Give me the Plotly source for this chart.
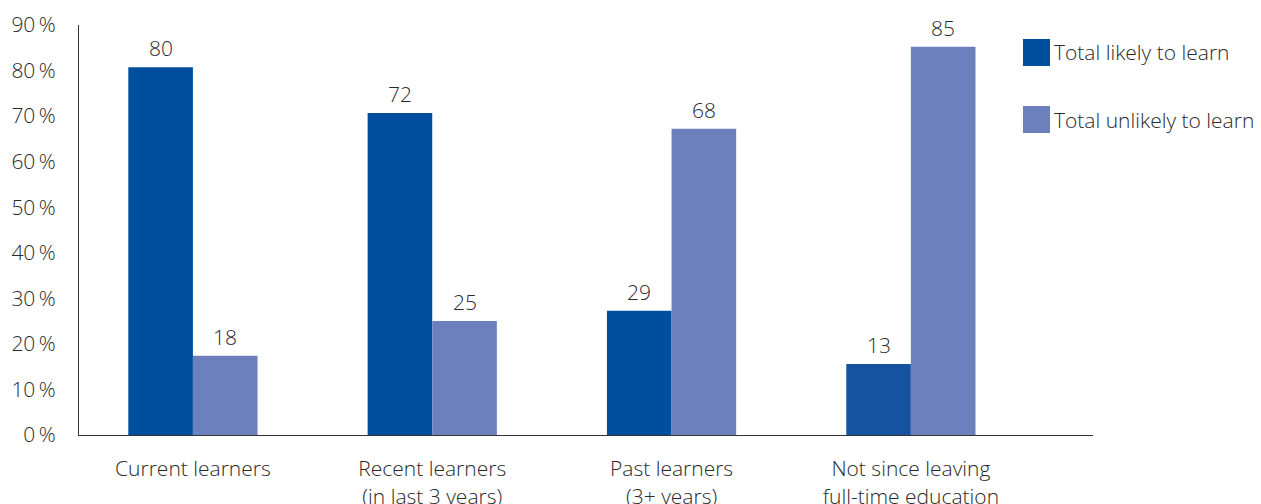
import plotly.graph_objects as go

categories = ["Current learners", "Recent learners<br>(in last 3 years)", "Past learners<br>(3+ years)",
              "Not since leaving<br>full-time education"]
likely_values = [80.7, 70.7, 27.3, 15.6]
unlikely_values = [17.4, 25.0, 67.2, 85.2]
likely_labels = ["80", "72", "29", "13"]
unlikely_labels = ["18", "25", "68", "85"]
series_names = ["Total likely to learn", "Total unlikely to learn"]
y_ticks = [0, 10, 20, 30, 40, 50, 60, 70, 80, 90]

DARK = "#004F9F"
DARK_ALT = "#1553A0"
LIGHT = "#6B80BC"
TEXT = "#2a2a2a"
FONT = "Open Sans"
FS = 21
FW = 300

W, H = 1261, 504
L, R, T, B = 79, 168, 25, 69
PW, PH = W - L - R, H - T - B

def px(x):
    return (x - L) / PW

def py(y):
    return (H - B - y) / PH

xs = list(range(len(categories)))
bw = 0.27
tfont = dict(family=FONT, size=FS, color=TEXT, weight=FW)

fig = go.Figure()
fig.add_trace(go.Bar(x=xs, y=likely_values, width=bw, offset=-bw, name=series_names[0],
                     marker=dict(color=[DARK, DARK, DARK, DARK_ALT], line=dict(width=0))))
fig.add_trace(go.Bar(x=xs, y=unlikely_values, width=bw, offset=0, name=series_names[1],
                     marker=dict(color=LIGHT, line=dict(width=0))))

annotations = []
for i in xs:
    annotations.append(dict(x=i - bw / 2, y=likely_values[i], text=likely_labels[i], showarrow=False,
                            xref="x", yref="y", yanchor="middle", yshift=19, font=tfont))
    annotations.append(dict(x=i + bw / 2, y=unlikely_values[i], text=unlikely_labels[i], showarrow=False,
                            xref="x", yref="y", yanchor="middle", yshift=19, font=tfont))

# legend
shapes = []
legend_colors = [DARK, LIGHT]
legend_tops = [39, 106]
for name, col, top in zip(series_names, legend_colors, legend_tops):
    shapes.append(dict(type="rect", xref="paper", yref="paper",
                       x0=px(1023), x1=px(1050), y0=py(top + 27), y1=py(top),
                       fillcolor=col, line=dict(width=0)))
    annotations.append(dict(x=px(1052), y=py(top + 13.5), xref="paper", yref="paper",
                            text=name, showarrow=False, xanchor="left", yanchor="middle",
                            font=tfont))

fig.update_layout(
    width=W, height=H,
    margin=dict(l=L, r=R, t=T, b=B, autoexpand=False),
    plot_bgcolor="white", paper_bgcolor="white",
    showlegend=False,
    barmode="overlay",
    font=tfont,
    annotations=annotations,
    shapes=shapes,
)
fig.update_xaxes(
    range=[-0.476, 3.761],
    tickvals=xs, ticktext=categories,
    showline=True, linecolor="#333333", linewidth=1,
    showgrid=False, zeroline=False, ticks="",
    automargin=False,
    ticklabelstandoff=15,
    tickfont=tfont,
)
fig.update_yaxes(
    range=[0, 90],
    tickvals=y_ticks, ticktext=[f"{v}\u2009%" for v in y_ticks],
    showline=True, linecolor="#333333", linewidth=1,
    showgrid=False, zeroline=False, ticks="",
    automargin=False,
    ticklabelstandoff=18,
    tickfont=tfont,
)

fig.write_html("out.html")
